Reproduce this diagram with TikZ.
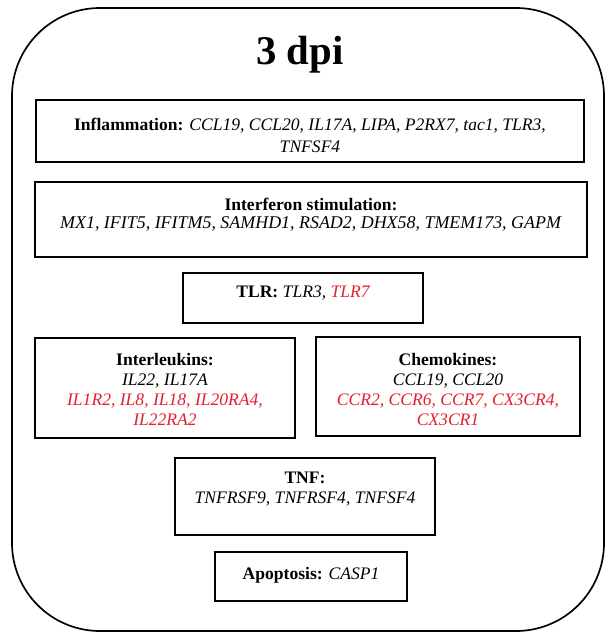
\documentclass[tikz,border=0pt]{standalone}
\usepackage{fontspec}
\setmainfont{Liberation Serif}
\usetikzlibrary{positioning}
\definecolor{geneRed}{HTML}{E3202F}
\newcommand{\gup}[1]{\textcolor{geneRed}{#1}}

\begin{document}
\begin{tikzpicture}[
    font=\fontsize{12.5}{14.2}\selectfont,
    frame/.style={draw, line width=1.2pt, rounded corners=2.2cm},
    gbox/.style={draw, rectangle, line width=1.1pt, align=center, inner xsep=2pt, inner ysep=0pt}
]
    \useasboundingbox (0,0) rectangle (15.125,-15.825);
    \draw[frame] (0.3,-0.2) rectangle (15.1,-15.775);
    \node[anchor=base, font=\fontsize{29}{34}\selectfont\bfseries] (title) at (7.5,-1.625) {3 dpi};

    % text height / depth fix where the lines sit in each box
    \node[gbox, minimum width=13.7cm, text height=1.3cm, text depth=0.25cm] (inflam) at (7.75,-3.275)
        {\textbf{Inflammation:} \textit{CCL19, CCL20, IL17A, LIPA, P2RX7, tac1, TLR3,}\\[0.05cm] \textit{TNFSF4}};
    \node[gbox, minimum width=13.8cm, text height=1.15cm, text depth=0.725cm] (ifn) at (7.775,-5.4875)
        {\textbf{Interferon stimulation:}\\[-0.05cm] \fontsize{12.75}{14.5}\selectfont\textit{MX1, IFIT5, IFITM5, SAMHD1, RSAD2, DHX58, TMEM173, GAPM}};
    \node[gbox, minimum width=6cm, text height=0.6cm, text depth=0.65cm] (tlr) at (7.575,-7.45)
        {\textbf{TLR:} \textit{TLR3, \gup{TLR7}}};

    \node[gbox, minimum width=6.5cm, text height=2.175cm, text depth=0.325cm] (il) at (4.125,-9.7)
        {\textbf{Interleukins:}\\ \textit{IL22, IL17A}\\ \textit{\gup{IL1R2, IL8, IL18, IL20RA4,}}\\ \textit{\gup{IL22RA2}}};
    \node[gbox, minimum width=6.6cm, text height=2.2cm, text depth=0.275cm] (chemo) at (11.2,-9.6625)
        {\textbf{Chemokines:}\\ \textit{CCL19, CCL20}\\ \textit{\gup{CCR2, CCR6, CCR7, CX3CR4,}}\\ \textit{\gup{CX3CR1}}};

    \node[gbox, minimum width=6.5cm, text height=1.125cm, text depth=0.8cm] (tnf) at (7.625,-12.4125)
        {\textbf{TNF:}\\ \textit{TNFRSF9, TNFRSF4, TNFSF4}};
    \node[gbox, minimum width=4.8cm, text height=0.675cm, text depth=0.55cm] (apop) at (7.775,-14.4125)
        {\textbf{Apoptosis:} \textit{CASP1}};
\end{tikzpicture}
\end{document}
